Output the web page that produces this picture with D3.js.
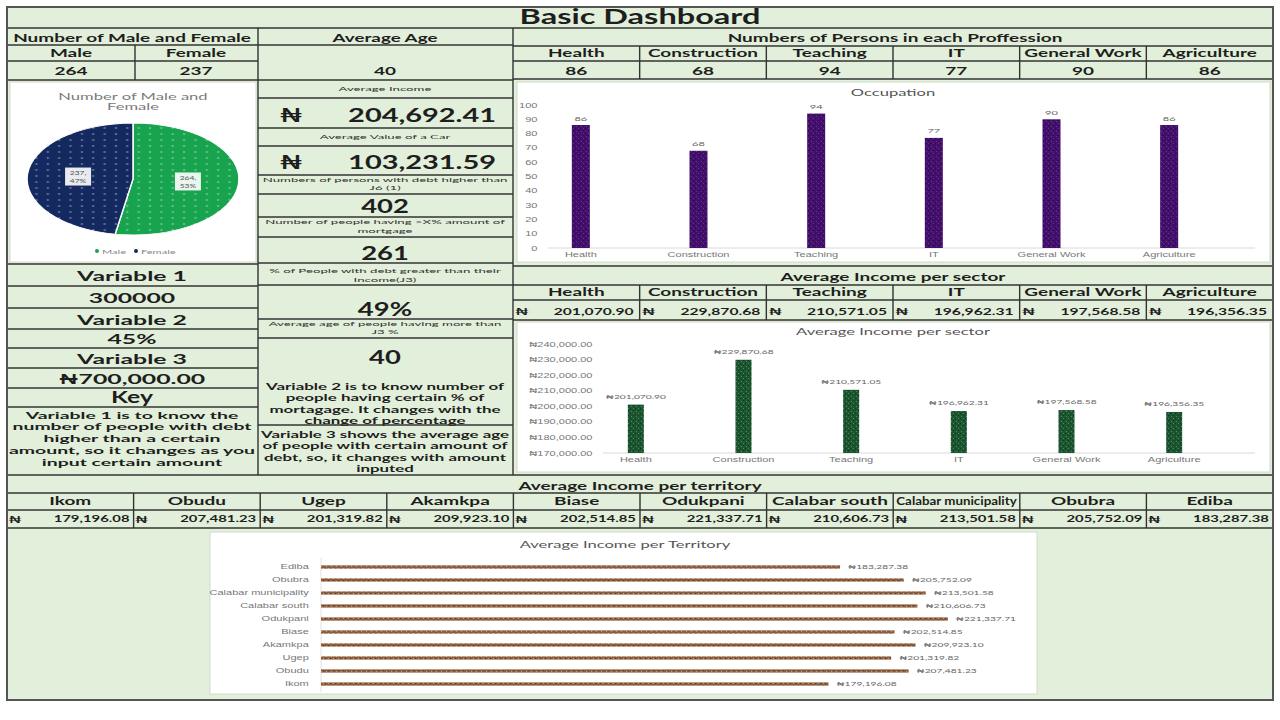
<!DOCTYPE html>
<html><head><meta charset="utf-8">
<script src="https://cdn.jsdelivr.net/npm/d3@7"></script>
<style>body{margin:0;background:#fff}svg{display:block;font-family:Lato,"DejaVu Sans",sans-serif}</style>
</head><body>
<script>
// ---------- DATA ----------
const genderLabels = ["Male", "Female"];
const genderCounts = [264, 237];
const professions = ["Health", "Construction", "Teaching", "IT", "General Work", "Agriculture"];
const professionCounts = [86, 68, 94, 77, 90, 86];
const sectorIncome = [201070.90, 229870.68, 210571.05, 196962.31, 197568.58, 196356.35];
const territories = ["Ikom", "Obudu", "Ugep", "Akamkpa", "Biase", "Odukpani", "Calabar south", "Calabar municipality", "Obubra", "Ediba"];
const territoryIncome = [179196.08, 207481.23, 201319.82, 209923.10, 202514.85, 221337.71, 210606.73, 213501.58, 205752.09, 183287.38];
const occTicks = [0, 10, 20, 30, 40, 50, 60, 70, 80, 90, 100];
const sectorTicks = [170000, 180000, 190000, 200000, 210000, 220000, 230000, 240000];
const kpiLabels = ["Average Income", "Average Value of a Car"];
const kpiValues = [204692.41, 103231.59];
const variableNames = ["Variable 1", "Variable 2", "Variable 3"];
const variableValues = ["300000", "45%", "₦700,000.00"];

// ---------- SETUP ----------
const svg = d3.select("body").append("svg").attr("width", 1280).attr("height", 720);
const defs = svg.append("defs");
const fmt2 = d3.format(",.2f");

function natural(s, size, weight) {
  const t = svg.append("text").attr("font-size", size).attr("font-weight", weight).text(s);
  const w = t.node().getComputedTextLength();
  t.remove();
  return w;
}
const fit = (s, size, weight, w) => w / natural(s, size, weight);

const HS = 11;
const hdrSX = fit("Number of Male and Female", HS, 700, 238);
const smSX = fit("Numbers of persons with debt higher than", 6.5, 400, 245);
const bigSX = fit("204,692.41", 19, 700, 148);
const varSX = fit("Variable 1", 14, 700, 110);
const CSX = 1.7;
const ctSX = fit("Average Income per sector", 9.5, 400, 194);

function speckle(id, base, light, dark) {
  const p = defs.append("pattern").attr("id", id).attr("patternUnits", "userSpaceOnUse").attr("width", 5).attr("height", 5);
  p.append("rect").attr("width", 5).attr("height", 5).attr("fill", base);
  p.append("rect").attr("x", 1).attr("y", 1).attr("width", 1).attr("height", 1).attr("fill", light);
  p.append("rect").attr("x", 3).attr("y", 3).attr("width", 1).attr("height", 1).attr("fill", light);
  p.append("rect").attr("x", 3).attr("y", 0).attr("width", 1).attr("height", 1).attr("fill", dark);
  p.append("rect").attr("x", 0).attr("y", 3).attr("width", 1).attr("height", 1).attr("fill", dark);
}
speckle("purp", "#43106c", "#6a2e9c", "#2a0748");
speckle("grn", "#1c5530", "#3f8f58", "#0e381c");
speckle("brn", "#8c5d3d", "#c19a78", "#5e3a22");
function dots(id, base) {
  const p = defs.append("pattern").attr("id", id).attr("patternUnits", "userSpaceOnUse").attr("width", 6).attr("height", 6);
  p.append("rect").attr("width", 6).attr("height", 6).attr("fill", base);
  p.append("circle").attr("cx", 3).attr("cy", 3).attr("r", 0.7).attr("fill", "#fff").attr("opacity", 0.45);
}
dots("pgreen", "#18a34f");
dots("pnavy", "#14295f");

function txt(x, y, s, size, o = {}) {
  const weight = o.weight ?? 700;
  const sx = o.w ? fit(String(s), size, weight, o.w) : (o.sx ?? hdrSX);
  return (o.parent || svg).append("text")
    .attr("transform", `translate(${x},${y}) scale(${sx},1)`)
    .attr("text-anchor", o.anchor || "middle")
    .attr("dominant-baseline", "central")
    .attr("font-size", size)
    .attr("font-weight", weight)
    .attr("fill", o.fill || "#1e1e1e")
    .text(s);
}
function block(x, y0, step, lines, size, weight, width) {
  const widest = d3.max(lines, l => natural(l, size, weight));
  const sx = width / widest;
  lines.forEach((s, i) => txt(x, y0 + i * step, s, size, { weight, sx }));
}
const LC = "#333";
function hl(x1, x2, y, w = 1.4) { svg.append("line").attr("x1", x1).attr("x2", x2).attr("y1", y).attr("y2", y).attr("stroke", LC).attr("stroke-width", w); }
function vl(x, y1, y2, w = 1.4) { svg.append("line").attr("x1", x).attr("x2", x).attr("y1", y1).attr("y2", y2).attr("stroke", LC).attr("stroke-width", w); }
function box(x, y, w, h) { svg.append("rect").attr("x", x).attr("y", y).attr("width", w).attr("height", h).attr("fill", "#fff").attr("stroke", "#cfdcc6").attr("stroke-width", 1); }
function styleAxisText(sel) { sel.attr("font-size", 6.5).attr("fill", "#777").attr("font-family", null).attr("transform", `scale(${CSX},1)`); }

svg.append("rect").attr("x", 7).attr("y", 7).attr("width", 1266).attr("height", 693).attr("fill", "#e2efda");

// ---------- TITLE ----------
txt(640, 16, "Basic Dashboard", 20, { w: 241 });

// ---------- LEFT COLUMN ----------
txt(132, 38, "Number of Male and Female", HS);
txt(71, 53, genderLabels[0], HS);
txt(196, 53, genderLabels[1], HS);
txt(71, 71, genderCounts[0], HS);
txt(196, 71, genderCounts[1], HS);

box(10, 82, 246, 180);
txt(133, 96, "Number of Male and", 9.5, { weight: 400, fill: "#7a7a7a", sx: ctSX });
txt(133, 106, "Female", 9.5, { weight: 400, fill: "#7a7a7a", sx: ctSX });

const total = d3.sum(genderCounts);
const pieData = d3.pie().sort(null)(genderCounts);
const R = 56, RX = 106;
const arc = d3.arc().innerRadius(0).outerRadius(R);
const pg = svg.append("g").attr("transform", `translate(133,179) scale(${RX / R},1)`);
pg.selectAll("path").data(pieData).join("path")
  .attr("d", arc)
  .attr("fill", (d, i) => i === 0 ? "url(#pgreen)" : "url(#pnavy)")
  .attr("stroke", "#fff").attr("stroke-width", 0.8);
const labArc = d3.arc().innerRadius(R * 0.52).outerRadius(R * 0.52);
pieData.forEach((d) => {
  const [cx, cy] = labArc.centroid(d);
  const x = 133 + cx * RX / R, y = 179 + cy;
  svg.append("rect").attr("x", x - 13).attr("y", y - 9).attr("width", 26).attr("height", 18).attr("fill", "#fff").attr("opacity", 0.9);
  txt(x, y - 4, d.data + ",", 6, { weight: 400, fill: "#555", sx: 1.4 });
  txt(x, y + 4, Math.round(d.data / total * 100) + "%", 6, { weight: 400, fill: "#555", sx: 1.4 });
});
[[genderLabels[0], "#18a34f", 97], [genderLabels[1], "#14295f", 136]].forEach(([l, c, x]) => {
  svg.append("circle").attr("cx", x).attr("cy", 251).attr("r", 2).attr("fill", c);
  txt(x + 5, 251, l, 6.5, { anchor: "start", weight: 400, fill: "#888", sx: CSX });
});

const varY = [[275, 297], [319, 338], [358, 378]];
variableNames.forEach((n, i) => {
  txt(132, varY[i][0], n, 14, { sx: varSX });
  txt(132, varY[i][1], variableValues[i], 14, { sx: varSX });
});
txt(132, 397, "Key", 17, { w: 42 });
block(132, 415, 11.7, ["Variable 1 is to know the", "number of people with debt", "higher than a certain", "amount, so it changes as you", "input certain amount"], 9.6, 700, 246);

// ---------- MIDDLE COLUMN ----------
txt(385, 38, "Average Age", HS, { w: 105 });
txt(385, 71, "40", HS);
const small = (y, s) => txt(385, y, s, 6.5, { weight: 400, fill: "#333", sx: smSX });
small(89, kpiLabels[0]);
txt(291, 115, "₦", 19, { sx: bigSX });
txt(496, 115, fmt2(kpiValues[0]), 19, { anchor: "end", sx: bigSX });
small(137, kpiLabels[1]);
txt(291, 162, "₦", 19, { sx: bigSX });
txt(496, 162, fmt2(kpiValues[1]), 19, { anchor: "end", sx: bigSX });
small(180, "Numbers of persons with debt higher than");
small(188, "J6 (1)");
txt(385, 206, "402", 18, { sx: bigSX });
small(222, "Number of people having >X% amount of");
small(231, "mortgage");
txt(385, 253, "261", 18, { sx: bigSX });
small(271, "% of People with debt greater than their");
small(280, "Income(J3)");
txt(385, 309, "49%", 18, { sx: bigSX });
small(324, "Average age of people having more than");
small(332, "J3 %");
txt(385, 357, "40", 18, { sx: bigSX });
block(385, 386, 11.5, ["Variable 2 is to know number of", "people having certain % of", "mortagage. It changes with the", "change of percentage"], 9.6, 700, 238);
block(385, 434, 11.5, ["Variable 3 shows the average age", "of people with certain amount of", "debt, so, it changes with amount", "inputed"], 9.6, 700, 248);

// ---------- RIGHT COLUMN: PROFESSIONS ----------
const colW = (1273 - 513) / 6;
txt(895, 38, "Numbers of Persons in each Proffession", HS, { w: 335 });
professions.forEach((p, i) => {
  const cx = 513 + colW * (i + 0.5);
  txt(cx, 53, p, HS);
  txt(cx, 71, professionCounts[i], HS);
});

box(517, 82, 753, 180);
txt(893, 92, "Occupation", 9.5, { weight: 400, fill: "#555", sx: ctSX });
const oy = d3.scaleLinear().domain([0, 100]).range([248, 105]);
const ox = d3.scaleBand().domain(professions).range([522, 1228]);
svg.append("line").attr("x1", 548).attr("x2", 1255).attr("y1", 248).attr("y2", 248).attr("stroke", "#d9d9d9");
const oyAx = svg.append("g").attr("transform", "translate(546,0)")
  .call(d3.axisLeft(oy).tickValues(occTicks).tickSize(0).tickPadding(5));
oyAx.select(".domain").remove();
styleAxisText(oyAx.selectAll("text"));
const oxAx = svg.append("g").attr("transform", "translate(0,248)")
  .call(d3.axisBottom(ox).tickSize(0).tickPadding(4));
oxAx.select(".domain").remove();
styleAxisText(oxAx.selectAll("text"));
svg.selectAll(".obar").data(professionCounts).join("rect")
  .attr("x", (d, i) => ox(professions[i]) + ox.bandwidth() / 2 - 9)
  .attr("y", d => oy(d)).attr("width", 18).attr("height", d => oy(0) - oy(d))
  .attr("fill", "url(#purp)");
professionCounts.forEach((d, i) => txt(ox(professions[i]) + ox.bandwidth() / 2, oy(d) - 7, d, 6.5, { weight: 400, fill: "#666", sx: CSX }));

// ---------- RIGHT COLUMN: SECTOR INCOME ----------
txt(893, 277, "Average Income per sector", HS);
professions.forEach((p, i) => {
  const x0 = 513 + colW * i;
  txt(x0 + colW / 2, 292, p, HS);
  txt(x0 + 9, 311, "₦", 10);
  txt(x0 + colW - 6, 311, fmt2(sectorIncome[i]), 10, { anchor: "end", w: 80 });
});
box(517, 322, 753, 150);
txt(893, 331, "Average Income per sector", 9.5, { weight: 400, fill: "#555", sx: ctSX });
const sy = d3.scaleLinear().domain([170000, 240000]).range([453, 344]);
const sx = d3.scaleBand().domain(professions).range([582, 1228]);
svg.append("line").attr("x1", 603).attr("x2", 1255).attr("y1", 453).attr("y2", 453).attr("stroke", "#d9d9d9");
const syAx = svg.append("g").attr("transform", "translate(601,0)")
  .call(d3.axisLeft(sy).tickValues(sectorTicks).tickSize(0).tickPadding(5).tickFormat(d => "₦" + fmt2(d)));
syAx.select(".domain").remove();
styleAxisText(syAx.selectAll("text"));
const sxAx = svg.append("g").attr("transform", "translate(0,453)")
  .call(d3.axisBottom(sx).tickSize(0).tickPadding(4));
sxAx.select(".domain").remove();
styleAxisText(sxAx.selectAll("text"));
svg.selectAll(".sbar").data(sectorIncome).join("rect")
  .attr("x", (d, i) => sx(professions[i]) + sx.bandwidth() / 2 - 8)
  .attr("y", d => sy(d)).attr("width", 16).attr("height", d => sy(170000) - sy(d))
  .attr("fill", "url(#grn)");
sectorIncome.forEach((d, i) => txt(sx(professions[i]) + sx.bandwidth() / 2, sy(d) - 8, "₦" + fmt2(d), 6, { weight: 400, fill: "#666", sx: CSX }));

// ---------- BOTTOM: TERRITORY ----------
const tW = (1273 - 7) / 10;
txt(640, 486, "Average Income per territory", HS);
territories.forEach((t, i) => {
  const x0 = 7 + tW * i;
  const natW = natural(t, HS, 700) * hdrSX;
  const o = natW > tW - 6 ? { w: tW - 6 } : {};
  txt(x0 + tW / 2, 501, t, HS, o);
  txt(x0 + 8, 519, "₦", 9.5);
  txt(x0 + tW - 4, 519, fmt2(territoryIncome[i]), 9.5, { anchor: "end", w: 76 });
});
box(210, 532, 827, 162);
txt(625, 544, "Average Income per Territory", 9.5, { weight: 400, fill: "#555", sx: ctSX });
const tx = d3.scaleLinear().domain([0, 250000]).range([321, 1029]);
const ty = d3.scaleBand().domain(territories).range([690.5, 560.5]);
svg.append("line").attr("x1", 321).attr("x2", 321).attr("y1", 558).attr("y2", 692).attr("stroke", "#e3e3e3");
const tyAx = svg.append("g").attr("transform", "translate(319,0)")
  .call(d3.axisLeft(ty).tickSize(0).tickPadding(6));
tyAx.select(".domain").remove();
styleAxisText(tyAx.selectAll("text"));
svg.selectAll(".tbar").data(territoryIncome).join("rect")
  .attr("x", tx(0))
  .attr("y", (d, i) => ty(territories[i]) + ty.bandwidth() / 2 - 1.6)
  .attr("width", d => tx(d) - tx(0)).attr("height", 3.2)
  .attr("fill", "url(#brn)");
territoryIncome.forEach((d, i) => txt(tx(d) + 8, ty(territories[i]) + ty.bandwidth() / 2, "₦" + fmt2(d), 6, { anchor: "start", weight: 400, fill: "#666", sx: CSX }));

// ---------- GRID LINES ----------
hl(7, 1273, 28);
vl(258, 28, 475); vl(513, 28, 475);
[45, 61, 80, 264, 286, 308, 329, 348, 368, 388, 407].forEach(y => hl(7, 258, y));
vl(135, 45, 80);
[45, 80, 98, 128, 146, 175, 194, 217, 237, 263, 285, 319, 338, 425].forEach(y => hl(258, 513, y));
[46, 61, 79, 266, 285, 300, 320].forEach(y => hl(513, 1273, y));
for (let i = 1; i < 6; i++) { vl(513 + colW * i, 46, 79); vl(513 + colW * i, 285, 320); }
[475, 493, 510, 528].forEach(y => hl(7, 1273, y));
for (let i = 1; i < 10; i++) vl(7 + tW * i, 493, 528);
svg.append("rect").attr("x", 7).attr("y", 7).attr("width", 1266).attr("height", 693).attr("fill", "none").attr("stroke", "#555").attr("stroke-width", 2);
</script>
</body></html>
